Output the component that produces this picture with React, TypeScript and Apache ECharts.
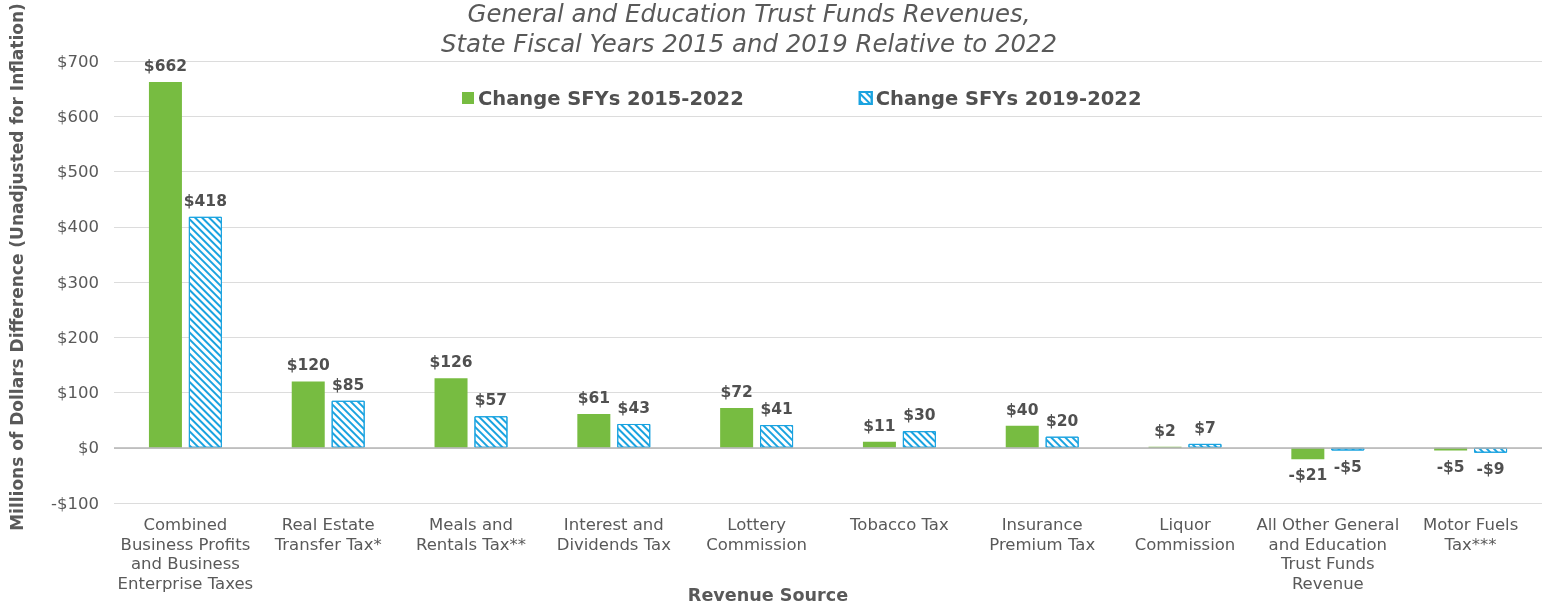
import React, { useEffect, useRef } from "react";
import * as echarts from "echarts";

const categories = [
  "Combined\nBusiness Profits\nand Business\nEnterprise Taxes",
  "Real Estate\nTransfer Tax*",
  "Meals and\nRentals Tax**",
  "Interest and\nDividends Tax",
  "Lottery\nCommission",
  "Tobacco Tax",
  "Insurance\nPremium Tax",
  "Liquor\nCommission",
  "All Other General\nand Education\nTrust Funds\nRevenue",
  "Motor Fuels\nTax***",
];
const change2015 = [662, 120, 126, 61, 72, 11, 40, 2, -21, -5];
const change2019 = [418, 85, 57, 43, 41, 30, 20, 7, -5, -9];
const seriesNames = ["Change SFYs 2015-2022", "Change SFYs 2019-2022"];
const yTitle = "Millions of Dollars Difference (Unadjusted for Inflation)";
const xTitle = "Revenue Source";
const chartTitle =
  "General and Education Trust Funds Revenues,\nState Fiscal Years 2015 and 2019 Relative to 2022";

const FONT = "'DejaVu Sans', 'Open Sans', sans-serif";
const GREEN = "#77bc41";
const BLUE = "#1aa3e0";
const TEXT = "#595959";

const fmt = (v: number) => (v >= 0 ? `$${v}` : `-$${-v}`);

const toData = (arr: number[]) =>
  arr.map((v) => ({
    value: v,
    label: { position: v < 0 ? "bottom" : "top" },
  }));

export default function App() {
  const ref = useRef<HTMLDivElement>(null);
  useEffect(() => {
    if (!ref.current) return;
    const chart = echarts.init(ref.current, null, { renderer: "svg" });
    const labelStyle = {
      show: true,
      formatter: (p: any) => fmt(p.value),
      fontFamily: FONT,
      fontWeight: "bold",
      fontSize: 15.5,
      color: "#505050",
      distance: 8,
    };
    chart.setOption({
      animation: false,
      textStyle: { fontFamily: FONT },
      title: {
        text: chartTitle,
        left: 749,
        textAlign: "center",
        top: -2,
        padding: 0,
        textStyle: {
          fontFamily: FONT,
          fontStyle: "italic",
          fontWeight: "normal",
          fontSize: 24.4,
          lineHeight: 30,
          color: TEXT,
        },
      },
      legend: {
        left: 462,
        top: 88,
        padding: 0,
        icon: "rect",
        itemWidth: 12,
        itemHeight: 12,
        itemGap: 115,
        textStyle: {
          fontFamily: FONT,
          fontWeight: "bold",
          fontSize: 19.5,
          color: "#505050",
          padding: [0, 0, 0, -1],
        },
        data: seriesNames,
      },
      graphic: [
        {
          type: "text",
          x: 17,
          y: 267,
          rotation: Math.PI / 2,
          style: {
            text: yTitle,
            fontFamily: FONT,
            fontWeight: "bold",
            fontSize: 17,
            fill: TEXT,
            textAlign: "center",
            textVerticalAlign: "middle",
          },
        },
        {
          type: "text",
          x: 768,
          y: 595,
          style: {
            text: xTitle,
            fontFamily: FONT,
            fontWeight: "bold",
            fontSize: 17.6,
            fill: TEXT,
            textAlign: "center",
            textVerticalAlign: "middle",
          },
        },
      ],
      grid: {
        left: 114,
        right: 6,
        top: 61,
        bottom: 103,
        containLabel: false,
        outerBoundsMode: "none",
      },
      xAxis: {
        type: "category",
        data: categories,
        axisLine: { show: false, onZero: false },
        axisTick: { show: false },
        axisLabel: {
          interval: 0,
          fontFamily: FONT,
          fontSize: 16.5,
          lineHeight: 19.5,
          color: TEXT,
          margin: 12,
        },
      },
      yAxis: {
        type: "value",
        min: -100,
        max: 700,
        interval: 100,
        axisLabel: {
          formatter: (v: number) => fmt(v),
          fontFamily: FONT,
          fontSize: 16.5,
          color: TEXT,
          margin: 15,
        },
        splitLine: { lineStyle: { color: "#dcdcdc" } },
        axisLine: { show: false },
        axisTick: { show: false },
      },
      series: [
        {
          name: seriesNames[0],
          type: "bar",
          data: toData(change2015),
          barWidth: 33,
          barGap: "21%",
          itemStyle: { color: GREEN },
          label: labelStyle,
          markLine: {
            silent: true,
            symbol: "none",
            label: { show: false },
            lineStyle: { color: "#b5b5b5", type: "solid", width: 1.5 },
            data: [{ yAxis: 0 }],
          },
          z: 3,
        },
        {
          name: seriesNames[1],
          type: "bar",
          data: toData(change2019),
          barWidth: 33,
          barGap: "21%",
          itemStyle: {
            color: "#ffffff",
            borderColor: BLUE,
            borderWidth: 1,
            decal: {
              symbol: "rect",
              color: BLUE,
              backgroundColor: "#ffffff",
              dashArrayX: [1, 0],
              dashArrayY: [2, 2.5],
              rotation: Math.PI / 4,
            },
          },
          label: labelStyle,
          z: 3,
        },
      ],
    });
    return () => chart.dispose();
  }, []);
  return (
    <div
      ref={ref}
      style={{ position: "fixed", left: 0, top: 0, width: 1548, height: 606 }}
    />
  );
}
